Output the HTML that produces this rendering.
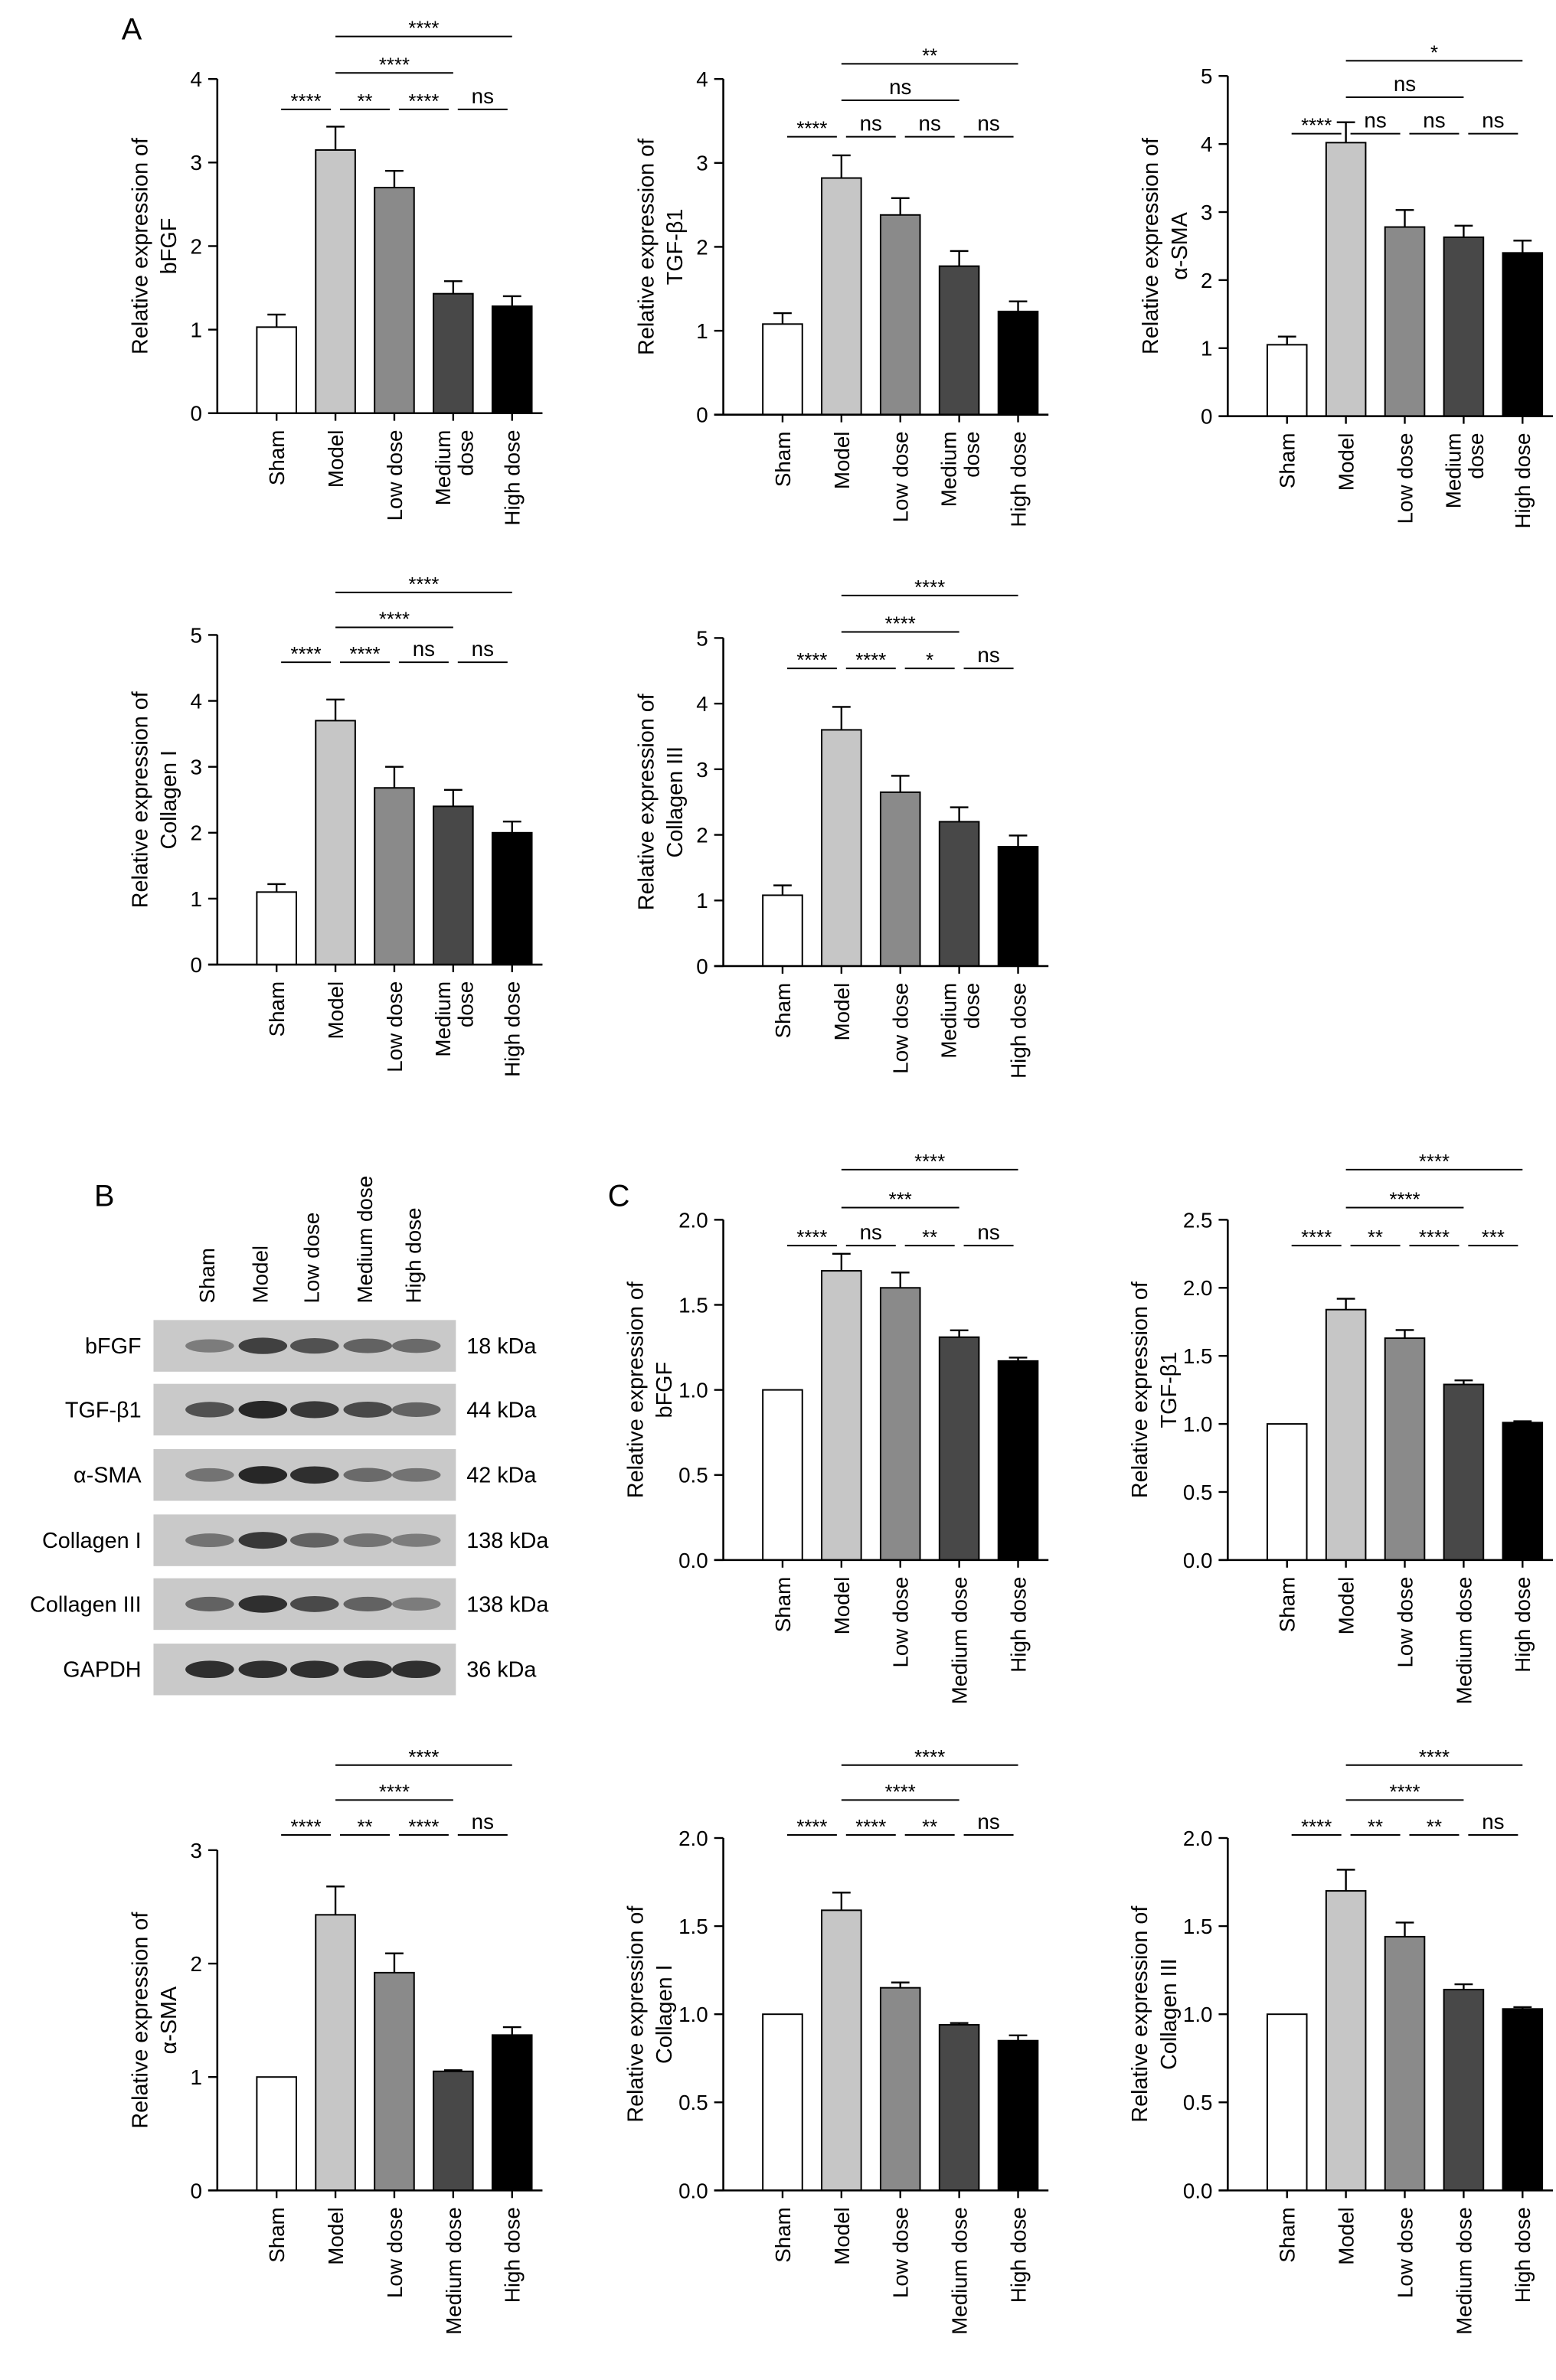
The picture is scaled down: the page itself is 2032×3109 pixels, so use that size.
<!DOCTYPE html>
<html><head><meta charset="utf-8"><style>
html,body{margin:0;padding:0;background:#fff;}
svg{display:block;font-family:"Liberation Sans",Arial,sans-serif;}
</style></head><body>
<svg id="fig" width="2032" height="3109" viewBox="0 0 1024 1566.8" xmlns="http://www.w3.org/2000/svg">
<text x="80" y="26" font-size="20">A</text>
<text x="62" y="794" font-size="20">B</text>
<text x="400" y="794" font-size="20">C</text>
<g id="blot"></g>
</svg>
<script>
const categories = ["Sham","Model","Low dose","Medium dose","High dose"];
const barFills = ["#ffffff","#c6c6c6","#8a8a8a","#484848","#000000"];

const a1Values = [1.03,3.15,2.70,1.43,1.28];
const a1Errors = [0.15,0.28,0.20,0.15,0.12];
const a1Ticks = ["0","1","2","3","4"];
const a1Sigs = [[0,1,0,"****"],[1,2,0,"**"],[2,3,0,"****"],[3,4,0,"ns"],[1,3,1,"****"],[1,4,2,"****"]];

const a2Values = [1.08,2.82,2.38,1.77,1.23];
const a2Errors = [0.13,0.27,0.20,0.18,0.12];
const a2Ticks = ["0","1","2","3","4"];
const a2Sigs = [[0,1,0,"****"],[1,2,0,"ns"],[2,3,0,"ns"],[3,4,0,"ns"],[1,3,1,"ns"],[1,4,2,"**"]];

const a3Values = [1.05,4.02,2.78,2.63,2.40];
const a3Errors = [0.12,0.30,0.25,0.17,0.18];
const a3Ticks = ["0","1","2","3","4","5"];
const a3Sigs = [[0,1,0,"****"],[1,2,0,"ns"],[2,3,0,"ns"],[3,4,0,"ns"],[1,3,1,"ns"],[1,4,2,"*"]];

const a4Values = [1.10,3.70,2.68,2.40,2.00];
const a4Errors = [0.12,0.32,0.32,0.25,0.17];
const a4Ticks = ["0","1","2","3","4","5"];
const a4Sigs = [[0,1,0,"****"],[1,2,0,"****"],[2,3,0,"ns"],[3,4,0,"ns"],[1,3,1,"****"],[1,4,2,"****"]];

const a5Values = [1.08,3.60,2.65,2.20,1.82];
const a5Errors = [0.15,0.35,0.25,0.22,0.17];
const a5Ticks = ["0","1","2","3","4","5"];
const a5Sigs = [[0,1,0,"****"],[1,2,0,"****"],[2,3,0,"*"],[3,4,0,"ns"],[1,3,1,"****"],[1,4,2,"****"]];

const c1Values = [1.00,1.70,1.60,1.31,1.17];
const c1Errors = [0,0.10,0.09,0.04,0.02];
const c1Ticks = ["0.0","0.5","1.0","1.5","2.0"];
const c1Sigs = [[0,1,0,"****"],[1,2,0,"ns"],[2,3,0,"**"],[3,4,0,"ns"],[1,3,1,"***"],[1,4,2,"****"]];

const c2Values = [1.00,1.84,1.63,1.29,1.01];
const c2Errors = [0,0.08,0.06,0.03,0.01];
const c2Ticks = ["0.0","0.5","1.0","1.5","2.0","2.5"];
const c2Sigs = [[0,1,0,"****"],[1,2,0,"**"],[2,3,0,"****"],[3,4,0,"***"],[1,3,1,"****"],[1,4,2,"****"]];

const c3Values = [1.00,2.43,1.92,1.05,1.37];
const c3Errors = [0,0.25,0.17,0.01,0.07];
const c3Ticks = ["0","1","2","3"];
const c3Sigs = [[0,1,0,"****"],[1,2,0,"**"],[2,3,0,"****"],[3,4,0,"ns"],[1,3,1,"****"],[1,4,2,"****"]];

const c4Values = [1.00,1.59,1.15,0.94,0.85];
const c4Errors = [0,0.10,0.03,0.01,0.03];
const c4Ticks = ["0.0","0.5","1.0","1.5","2.0"];
const c4Sigs = [[0,1,0,"****"],[1,2,0,"****"],[2,3,0,"**"],[3,4,0,"ns"],[1,3,1,"****"],[1,4,2,"****"]];

const c5Values = [1.00,1.70,1.44,1.14,1.03];
const c5Errors = [0,0.12,0.08,0.03,0.01];
const c5Ticks = ["0.0","0.5","1.0","1.5","2.0"];
const c5Sigs = [[0,1,0,"****"],[1,2,0,"**"],[2,3,0,"**"],[3,4,0,"ns"],[1,3,1,"****"],[1,4,2,"****"]];

const blotRows = ["bFGF","TGF-β1","α-SMA","Collagen I","Collagen III","GAPDH"];
const blotKda = ["18 kDa","44 kDa","42 kDa","138 kDa","138 kDa","36 kDa"];
const blotIntensity = [[0.45,0.8,0.7,0.6,0.55],[0.7,0.95,0.85,0.75,0.6],[0.5,0.95,0.9,0.55,0.5],[0.5,0.85,0.6,0.5,0.45],[0.6,0.9,0.75,0.6,0.45],[0.9,0.9,0.9,0.9,0.9]];

const NS="http://www.w3.org/2000/svg";
const svg=document.getElementById("fig");
function mk(tag,attrs,parent){const e=document.createElementNS(NS,tag);for(const k in attrs)e.setAttribute(k,attrs[k]);(parent||svg).appendChild(e);return e;}

function chart(o){
  const g=mk("g",{});
  
  
  const tickVal=o.tickStep;
  const top=o.max;
  const y=v=>o.y0-v/top*(o.y0-o.yTop);
  const cx=i=>o.ax+39+i*38.75;
  o.values.forEach((v,i)=>{
    const b=mk("rect",{x:cx(i)-13,y:y(v),width:26,height:o.y0-y(v),fill:barFills[i],stroke:"#000","stroke-width":1},g);
    
    
    const e=o.errors[i];
    if(e>0){
      const eb=mk("path",{d:`M${cx(i)} ${y(v)}V${y(v+e)}M${cx(i)-6} ${y(v+e)}H${cx(i)+6}`,stroke:"#000","stroke-width":1.2,fill:"none"},g);
      
      
    }
  });
  const ya=mk("path",{d:`M${o.ax} ${o.y0}V${o.yTop}`,stroke:"#000","stroke-width":1.3},g);
  
  
  const xa=mk("path",{d:`M${o.ax-6} ${o.y0}H${cx(4)+20}`,stroke:"#000","stroke-width":1.3},g);
  
  
  o.ticks.forEach((t,k)=>{
    const v=k*tickVal, yy=y(v);
    mk("path",{d:`M${o.ax-6} ${yy}H${o.ax}`,stroke:"#000","stroke-width":1.2},g);
    const tl=mk("text",{x:o.ax-10,y:yy+5,"font-size":14,"text-anchor":"end"},g);
    tl.textContent=t;
    
    
  });
  categories.forEach((c,i)=>{
    mk("path",{d:`M${cx(i)} ${o.y0}V${o.y0+5}`,stroke:"#000","stroke-width":1.2},g);
    const lines=(o.split&&c==="Medium dose")?["Medium","dose"]:[c];
    lines.forEach((ln,j)=>{
      const bx=lines.length>1?cx(i)-2+j*15:cx(i)+5;
      const t=mk("text",{x:0,y:0,"font-size":14,"text-anchor":"end",transform:`translate(${bx},${o.y0+11}) rotate(-90)`},g);
      t.textContent=ln;
      
      
    });
  });
  const mid=(o.y0+o.yTop)/2;
  [o.title1,o.title2].forEach((ln,j)=>{
    const t=mk("text",{x:0,y:0,"font-size":14.5,"text-anchor":"middle",transform:`translate(${o.ax-o.tOff+j*19},${mid}) rotate(-90)`},g);
    t.textContent=ln;
    
    
  });
  o.sigs.forEach(s=>{
    const yy=o.sigY-s[2]*o.sigGap;
    const x1=cx(s[0])+(s[1]-s[0]===1?3:0), x2=cx(s[1])-(s[1]-s[0]===1?3:0);
    const l=mk("path",{d:`M${x1} ${yy}H${x2}`,stroke:"#000","stroke-width":1},g);
    
    
    const t=mk("text",{x:(x1+x2)/2,y:yy-(s[3]==="ns"?4:1),"font-size":s[3]==="ns"?14:13,"text-anchor":"middle"},g);
    t.textContent=s[3];
    
    
  });
}

chart({name:"chart-a-bfgf",ax:143,y0:272,yTop:52,max:4,tickStep:1,ticks:a1Ticks,values:a1Values,errors:a1Errors,sigs:a1Sigs,sigY:72,sigGap:24,title1:"Relative expression of",title2:"bFGF",tOff:46,split:true});
chart({name:"chart-a-tgfb1",ax:476,y0:273,yTop:52,max:4,tickStep:1,ticks:a2Ticks,values:a2Values,errors:a2Errors,sigs:a2Sigs,sigY:90,sigGap:24,title1:"Relative expression of",title2:"TGF-β1",tOff:46,split:true});
chart({name:"chart-a-asma",ax:808,y0:274,yTop:50,max:5,tickStep:1,ticks:a3Ticks,values:a3Values,errors:a3Errors,sigs:a3Sigs,sigY:88,sigGap:24,title1:"Relative expression of",title2:"α-SMA",tOff:46,split:true});
chart({name:"chart-a-collagen-i",ax:143,y0:635,yTop:418,max:5,tickStep:1,ticks:a4Ticks,values:a4Values,errors:a4Errors,sigs:a4Sigs,sigY:436,sigGap:23,title1:"Relative expression of",title2:"Collagen I",tOff:46,split:true});
chart({name:"chart-a-collagen-iii",ax:476,y0:636,yTop:420,max:5,tickStep:1,ticks:a5Ticks,values:a5Values,errors:a5Errors,sigs:a5Sigs,sigY:440,sigGap:24,title1:"Relative expression of",title2:"Collagen III",tOff:46,split:true});
chart({name:"chart-c-bfgf",ax:476,y0:1027,yTop:803,max:2,tickStep:0.5,ticks:c1Ticks,values:c1Values,errors:c1Errors,sigs:c1Sigs,sigY:820,sigGap:25,title1:"Relative expression of",title2:"bFGF",tOff:53,split:false});
chart({name:"chart-c-tgfb1",ax:808,y0:1027,yTop:803,max:2.5,tickStep:0.5,ticks:c2Ticks,values:c2Values,errors:c2Errors,sigs:c2Sigs,sigY:820,sigGap:25,title1:"Relative expression of",title2:"TGF-β1",tOff:53,split:false});
chart({name:"chart-c-asma",ax:143,y0:1442,yTop:1218,max:3,tickStep:1,ticks:c3Ticks,values:c3Values,errors:c3Errors,sigs:c3Sigs,sigY:1208,sigGap:23,title1:"Relative expression of",title2:"α-SMA",tOff:46,split:false});
chart({name:"chart-c-collagen-i",ax:476,y0:1442,yTop:1210,max:2,tickStep:0.5,ticks:c4Ticks,values:c4Values,errors:c4Errors,sigs:c4Sigs,sigY:1208,sigGap:23,title1:"Relative expression of",title2:"Collagen I",tOff:53,split:false});
chart({name:"chart-c-collagen-iii",ax:808,y0:1442,yTop:1210,max:2,tickStep:0.5,ticks:c5Ticks,values:c5Values,errors:c5Errors,sigs:c5Sigs,sigY:1208,sigGap:23,title1:"Relative expression of",title2:"Collagen III",tOff:53,split:false});

const bg=document.getElementById("blot");
const laneX=[136,171,205,240,272];
categories.forEach((c,i)=>{
  const t=mk("text",{x:0,y:0,"font-size":14,transform:`translate(${laneX[i]+5},${858}) rotate(-90)`},bg);
  t.textContent=c;
  
  
});
const rowY=[869,911,954,997,1039,1082];
blotRows.forEach((r,k)=>{
  const yy=rowY[k];
  const rr=mk("rect",{x:101,y:yy,width:199,height:34,fill:"#c9c9c9"},bg);
  
  
  blotIntensity[k].forEach((v,i)=>{
    const sh=Math.round(200-v*170);
    const band=mk("ellipse",{cx:laneX[i]+2,cy:yy+17,rx:16,ry:3+v*3,fill:`rgb(${sh},${sh},${sh})`},bg);
    
    
  });
  const l=mk("text",{x:93,y:yy+22,"font-size":14.5,"text-anchor":"end"},bg);
  l.textContent=r;
  
  
  const kd=mk("text",{x:307,y:yy+22,"font-size":14.5},bg);
  kd.textContent=blotKda[k];
  
  
});
</script>
</body></html>
